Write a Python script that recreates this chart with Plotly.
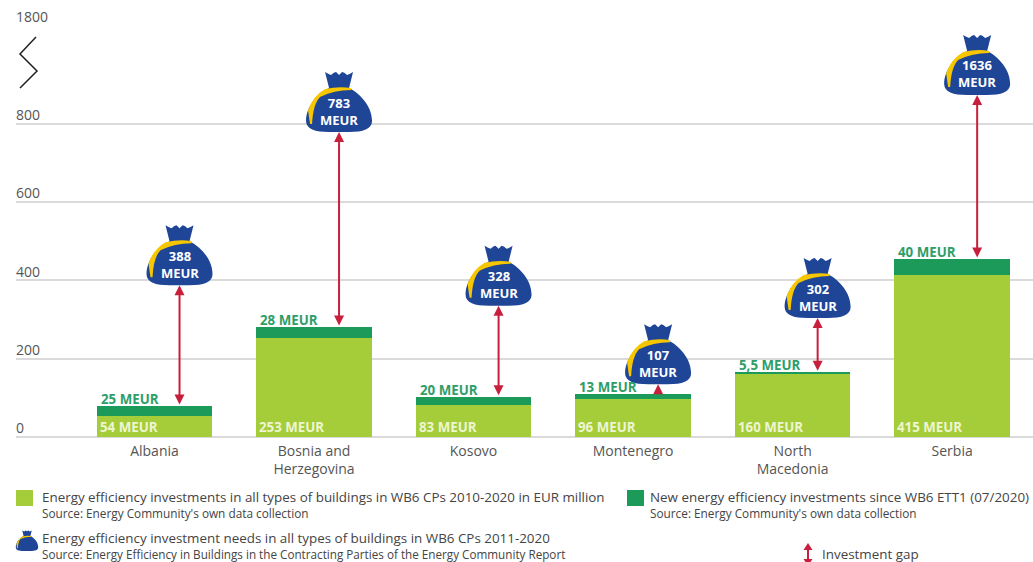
import plotly.graph_objects as go

# ---- data ----
countries = ["Albania", "Bosnia and<br>Herzegovina", "Kosovo", "Montenegro", "North<br>Macedonia", "Serbia"]
invest_all = [54, 253, 83, 96, 160, 415]
invest_new = [25, 28, 20, 13, 5.5, 40]
new_labels = ["25 MEUR", "28 MEUR", "20 MEUR", "13 MEUR", "5,5 MEUR", "40 MEUR"]
needs = [388, 783, 328, 107, 302, 1636]
# height at which each bag sits on the (broken) axis
bag_level = [388, 779, 335, 135, 304, 874]
y_ticks = [0, 200, 400, 600, 800, 1050]
y_tick_text = ["0", "200", "400", "600", "800", "1800"]

# ---- style ----
FONT = "Open Sans"
GREY = "#555555"
LIGHT = "#a5cd39"
DARK = "#1b9a5a"
LABEL_GREEN = "#2e9e68"
BLUE = "#1f4597"
YELLOW = "#f6c700"
RED = "#c8203c"
W, H = 1033, 562
L, R, T, B = 16, 0, 26, 125
BAG_DX = 0.157
BAR_W = 0.724

def px(v):
    return (v - L) / (W - L - R)

def py(v):
    return (H - B - v) / (H - T - B)

def scale_path(parts, s):
    out = []
    for p in parts:
        if isinstance(p, str):
            out.append(p)
        else:
            out.append(f"{p[0]*s:.2f},{p[1]*s:.2f}")
    return " ".join(out)

BAG = ["M", (-10, 44), "C", (-22, 38), (-33, 25), (-33, 11), "C", (-33, 3), (-24, 0), (-10, 0),
       "L", (10, 0), "C", (24, 0), (33, 3), (33, 11), "C", (33, 25), (22, 38), (10, 44),
       "L", (14, 60), "Q", (11, 58), (8, 57), "Q", (5, 60), (3, 60), "Q", (1, 58), (0, 57),
       "Q", (-1, 58), (-3, 60), "Q", (-5, 60), (-8, 57), "Q", (-11, 58), (-14, 60), "Z"]
STRAP = ["M", (12, 44), "L", (12, 42), "Q", (-5, 42), (-19, 35), "Q", (-26, 28), (-27, 8),
         "L", (-29, 8), "Q", (-30, 14), (-31, 22), "Q", (-26, 36), (-14, 43), "Q", (0, 46), (12, 44), "Z"]
ZIGZAG = "M 20,-11 L 4,-28 L 21,-45 L 4,-62"
GAP_ICON = "M 0,19 L 4.5,12 L 1,12 L 1,3 L 4.5,3 L 0,-4 L -4.5,3 L -1,3 L -1,12 L -4.5,12 Z"

fig = go.Figure()
xs = list(range(len(countries)))
fig.add_bar(x=xs, y=invest_all, marker=dict(color=LIGHT, line_width=0), width=BAR_W, name="all")
fig.add_bar(x=xs, y=invest_new, marker=dict(color=DARK, line_width=0), width=BAR_W, name="new")

shapes, ann = [], []

for i in xs:
    top = invest_all[i] + invest_new[i]
    cx = i + BAG_DX
    lvl = bag_level[i]
    for path, col in ((BAG, BLUE), (STRAP, YELLOW)):
        shapes.append(dict(type="path", xsizemode="pixel", ysizemode="pixel", xref="x", yref="y",
                           xanchor=cx, yanchor=lvl, path=scale_path(path, 1),
                           fillcolor=col, line_width=0, layer="above"))
    ann.append(dict(x=cx, y=lvl, yref="y", xref="x", text=f"<b>{needs[i]}<br>MEUR</b>", showarrow=False,
                    yanchor="middle", xanchor="center", yshift=21,
                    font=dict(family=FONT, size=13, color="white")))
    ann.append(dict(x=cx, y=lvl, ax=cx, ay=top, xref="x", yref="y", axref="x", ayref="y", text="",
                    showarrow=True, arrowside="end" if lvl - top < 40 else "end+start",
                    arrowhead=2, arrowsize=1, arrowwidth=2, arrowcolor=RED, standoff=0, startstandoff=0))
    ann.append(dict(x=i - BAR_W / 2, y=0, xref="x", yref="y", text=f"<b>{invest_all[i]} MEUR</b>", showarrow=False,
                    xanchor="left", yanchor="bottom", xshift=1, yshift=-1,
                    font=dict(family=FONT, size=13.3, color="#eef5d2")))
    ann.append(dict(x=i - BAR_W / 2, y=top, xref="x", yref="y", text=f"<b>{new_labels[i]}</b>", showarrow=False,
                    xanchor="left", yanchor="bottom", xshift=2, yshift=-4,
                    font=dict(family=FONT, size=13.3, color=LABEL_GREEN)))

# broken axis mark
shapes.append(dict(type="path", xsizemode="pixel", ysizemode="pixel", xref="paper", yref="y",
                   xanchor=0, yanchor=y_ticks[-1], path=ZIGZAG, line=dict(color="#222222", width=1.5),
                   fillcolor="rgba(0,0,0,0)", layer="above"))

# legend
def rect(x0, x1, y0, y1, col):
    shapes.append(dict(type="rect", xref="paper", yref="paper", x0=px(x0), x1=px(x1), y0=py(y1), y1=py(y0),
                       fillcolor=col, line_width=0))

def legend_text(x, y, text, size, col="#444444"):
    ann.append(dict(xref="paper", yref="paper", x=px(x - 2), y=py(y), text=text, showarrow=False,
                    xanchor="left", yanchor="middle", font=dict(family=FONT, size=size, color=col)))

rect(16, 33, 490, 506, LIGHT)
rect(627, 644, 490, 506, DARK)
for path, col in ((BAG, BLUE), (STRAP, YELLOW)):
    shapes.append(dict(type="path", xsizemode="pixel", ysizemode="pixel", xref="paper", yref="paper",
                       xanchor=px(27), yanchor=py(551), path=scale_path(path, 0.34),
                       fillcolor=col, line_width=0))
shapes.append(dict(type="path", xsizemode="pixel", ysizemode="pixel", xref="paper", yref="paper",
                   xanchor=px(808), yanchor=py(562), path=GAP_ICON, fillcolor=RED, line_width=0))
legend_text(42, 497, "Energy efficiency investments in all types of buildings in WB6 CPs 2010-2020 in EUR million", 13.4)
legend_text(42, 513, "Source: Energy Community's own data collection", 11.8)
legend_text(650, 497, "New energy efficiency investments since WB6 ETT1 (07/2020)", 13.4)
legend_text(650, 513, "Source: Energy Community's own data collection", 11.8)
legend_text(42, 538, "Energy efficiency investment needs in all types of buildings in WB6 CPs 2011-2020", 13.4)
legend_text(42, 554, "Source: Energy Efficiency in Buildings in the Contracting Parties of the Energy Community Report", 11.7)
legend_text(822, 554, "Investment gap", 13.4)

fig.update_layout(
    barmode="stack", width=W, height=H, margin=dict(l=L, r=R, t=T, b=B),
    paper_bgcolor="white", plot_bgcolor="white", showlegend=False,
    font=dict(family=FONT, color=GREY, size=13),
    shapes=shapes, annotations=ann,
    xaxis=dict(range=[-0.868, 5.507], tickmode="array", tickvals=xs, ticktext=countries, showgrid=False,
               zeroline=False, showline=False, ticks="", ticklabelstandoff=4,
               tickfont=dict(family=FONT, size=14, color=GREY)),
    yaxis=dict(range=[0, y_ticks[-1]], tickmode="array", tickvals=y_ticks, ticktext=y_tick_text,
               showgrid=True, gridcolor="#dadada", gridwidth=1.5, zeroline=True, zerolinecolor="#dadada", zerolinewidth=1.5,
               ticks="", ticklabelposition="inside top", ticklabeloverflow="allow", ticklabelstandoff=-3, ticklabelshift=1,
               tickfont=dict(family=FONT, size=14, color=GREY), showline=False),
)

fig.write_html("out.html", post_script="document.body.style.margin='0';", config={"displayModeBar": False})
